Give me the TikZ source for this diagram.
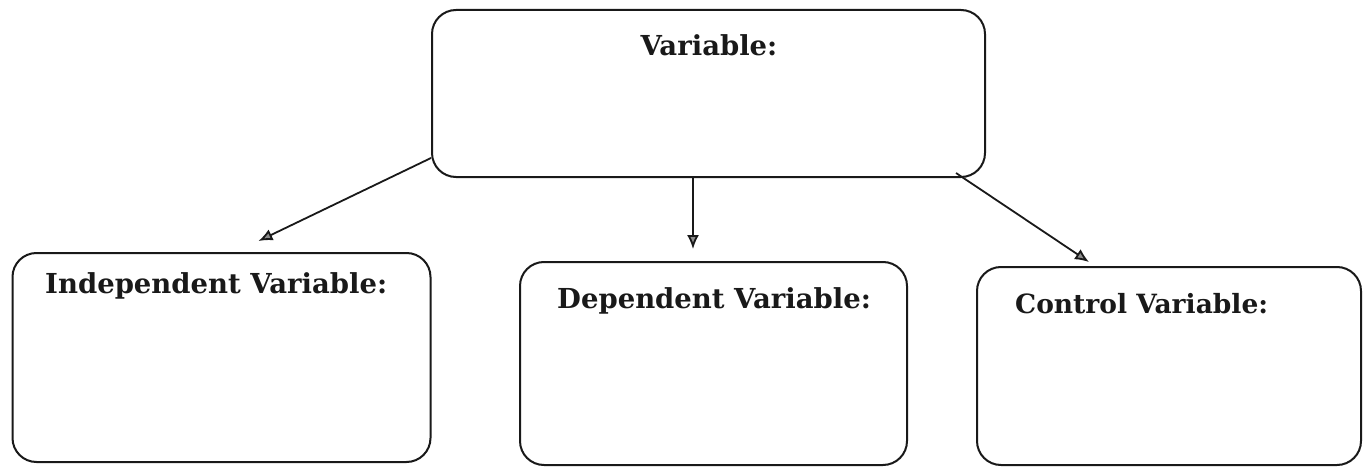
\documentclass[tikz,border=0pt]{standalone}
\usepackage{fontspec}
\setmainfont{DejaVu Serif}
\usetikzlibrary{arrows.meta,calc}
\tikzset{
  box/.style={draw=black!90, line width=2pt, rounded corners=24pt, inner sep=0pt},
  lbl/.style={inner sep=0pt, font=\fontsize{27.5}{32}\selectfont\bfseries, text=black!90},
  conn/.style={draw=black!90, line width=1.8pt, -{Latex[length=14pt,width=12pt,fill=black!45]}}
}
\begin{document}
\begin{tikzpicture}[x=1pt,y=1pt]
\useasboundingbox (0,0) rectangle (1363,475);
\fill[white] (0,0) rectangle (1363,475);
\node[box, minimum width=553pt, minimum height=167pt] (top) at (708.5,381.5) {};
\node[box, minimum width=418pt, minimum height=209pt] (ind) at (221.5,117.5) {};
\node[box, minimum width=387pt, minimum height=203pt] (dep) at (713.5,111.5) {};
\node[box, minimum width=384pt, minimum height=198pt] (ctl) at (1169,109) {};
\node[lbl, anchor=base] (tvar) at (709,419) {Variable:};
\node[lbl, anchor=base west] (tind) at (45,182) {Independent Variable:};
\node[lbl, anchor=base west] (tdep) at (557,167) {Dependent Variable:};
\node[lbl, anchor=base west, font=\fontsize{26.5}{31}\selectfont\bfseries] (tctl) at (1015,162) {Control Variable:};
\coordinate (s1) at ($(top.south west)+(0,20)$);
\coordinate (e1) at ($(ind.north)+(37,11)$);
\coordinate (s2) at (top.south -| 693,0);
\coordinate (e2) at ($(dep.north -| 693,0)+(0,12)$);
\coordinate (s3) at ($(top.south east)+(-30,5)$);
\coordinate (e3) at ($(ctl.north west)+(113,4)$);
\draw[conn] (s1) -- (e1);
\draw[conn] (s2) -- (e2);
\draw[conn] (s3) -- (e3);
\end{tikzpicture}
\end{document}
